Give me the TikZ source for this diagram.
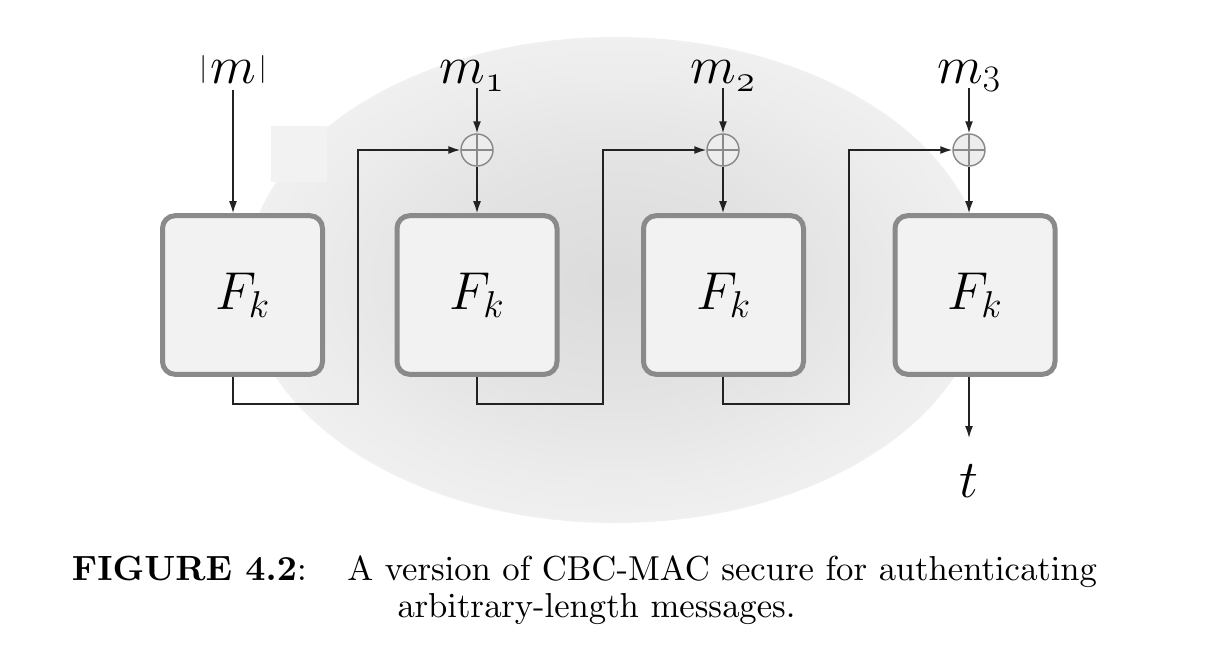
\RequirePackage{fix-cm}
\documentclass[tikz,border=0pt]{standalone}
\usepackage{graphicx}
\usetikzlibrary{arrows.meta,calc}
\definecolor{boxborder}{HTML}{8A8A8A}
\definecolor{boxfill}{HTML}{F2F2F2}
\definecolor{ink}{HTML}{222222}
\pgfdeclareradialshading{bgshade}{\pgfpoint{0bp}{0bp}}{color(0bp)=(black!14); color(12bp)=(black!11); color(22bp)=(black!7); color(25bp)=(black!6); color(50bp)=(black!6)}
\newcommand\smallbar{\mbox{\raisebox{5.2pt}{\resizebox*{!}{21pt}{$|$}}}}
\font\capfont=cmr10 at 26pt
\font\capbold=cmbx10 at 26.3pt
\begin{document}
\begin{tikzpicture}[x=0.75pt,y=-0.75pt,
  fbox/.style={draw=boxborder, line width=3.75pt, fill=boxfill, rounded corners=9.5pt,
    minimum width=120pt, minimum height=119pt, inner sep=0pt, font=\fontsize{40}{48}\selectfont},
  xorop/.style={circle, draw=boxborder, line width=1.1pt, fill=black!7, minimum size=24pt, inner sep=0pt,
    path picture={\draw[boxborder, line width=1.1pt]
      (path picture bounding box.north) -- (path picture bounding box.south)
      (path picture bounding box.west) -- (path picture bounding box.east);}},
  lbl/.style={font=\fontsize{40}{48}\selectfont, inner sep=0pt, anchor=base},
  capt/.style={font=\capfont, inner sep=0pt},
  conn/.style={draw=ink, line width=1.1pt},
  arr/.style={conn, -{Latex[length=9pt,width=6pt]}}]
\useasboundingbox (0,0) rectangle (1222,650);
% background
\shade[shading=bgshade] (615,280) ellipse [x radius=370, y radius=243];
\fill[black!5] (271,126) rectangle (327,182);
% boxes
\node[fbox] (b1) at (242.5,295) {$F_k$};
\node[fbox] (b2) at (477,295) {$F_k$};
\node[fbox] (b3) at (723.5,295) {$F_k$};
\node[fbox] (b4) at (975,295) {$F_k$};
% xor
\node[xorop] (x1) at (477,150) {};
\node[xorop] (x2) at (723,150) {};
\node[xorop] (x3) at (969,150) {};
% labels
\node[lbl] (m0) at (233,83) {$\smallbar\mkern1mu m\mkern1mu\smallbar$};
\node[lbl] (m1) at (472,83) {$m_{\mathnormal{1}}$};
\node[lbl] (m2) at (723,83) {$m_{\mathnormal{2}}$};
\node[lbl] (m3) at (969,83) {$m_3$};
\node[lbl] (t) at (969,497) {$t$};
% corner points of the chaining connectors
\coordinate (c1) at (358,404);
\coordinate (c2) at (603,404);
\coordinate (c3) at (849,404);
% arrows
\draw[arr] ($(m0.base)+(0,7)$) -- (m0 |- b1.north);
\draw[arr] ($(x1 |- m1.base)+(0,5)$) -- (x1.north);
\draw[arr] ($(m2.base)+(0,5)$) -- (x2.north);
\draw[arr] ($(m3.base)+(0,5)$) -- (x3.north);
\draw[arr] (x1.south) -- (x1 |- b2.north);
\draw[arr] (x2.south) -- (x2 |- b3.north);
\draw[arr] (x3.south) -- (x3 |- b4.north);
\draw[arr] (m0 |- b1.south) |- (c1) |- (x1.west);
\draw[arr] (x1 |- b2.south) |- (c2) |- (x2.west);
\draw[arr] (x2 |- b3.south) |- (c3) |- (x3.west);
\draw[arr] (x3 |- b4.south) -- ($(t.base)+(0,-59)$);
% caption
\node[capt, anchor=base east] (cap0) at (307,580) {{\capbold FIGURE 4.2}:};
\node[capt, anchor=base west] (cap1) at (347,580) {A version of CBC-MAC secure for authenticating};
\node[capt, anchor=base west] (cap2) at (397,617) {arbitrary-length messages.};
\end{tikzpicture}
\end{document}
